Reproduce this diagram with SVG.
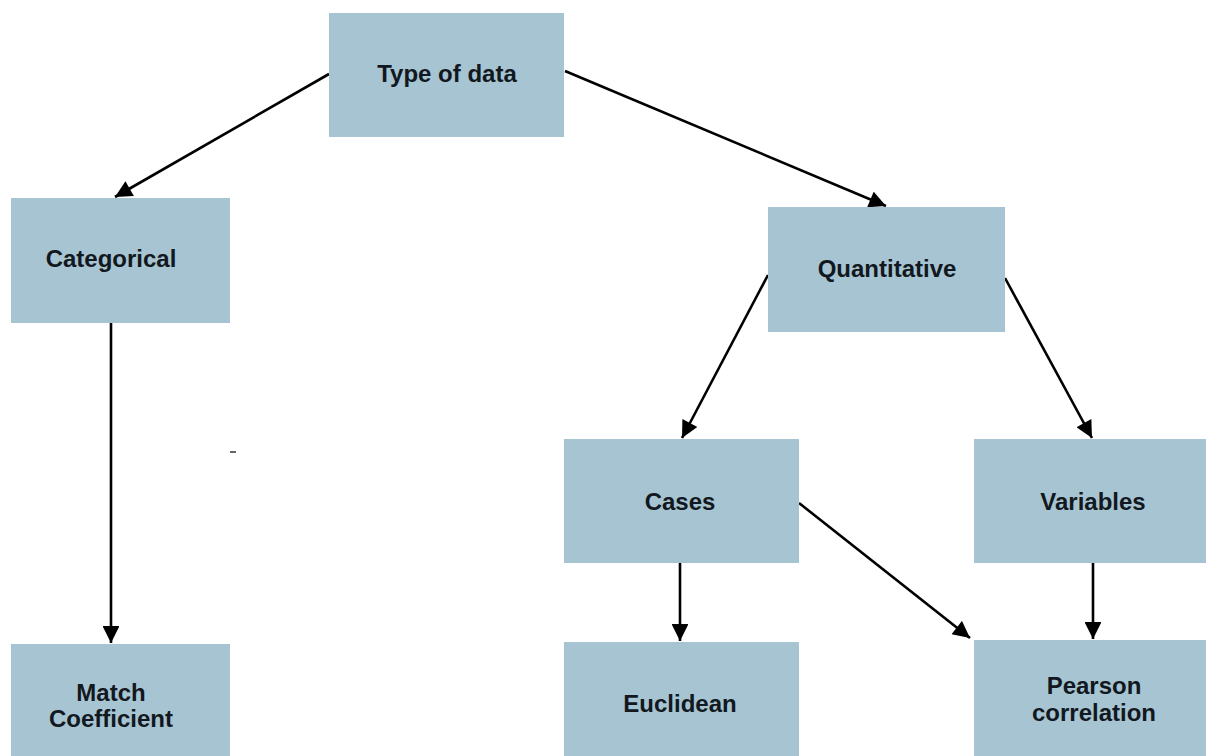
<svg xmlns="http://www.w3.org/2000/svg" width="1206" height="756" viewBox="0 0 1206 756">
  <style>
    .box { fill: #a7c4d2; }
    .label { font-family: "Liberation Sans", Arial, sans-serif; font-weight: bold; font-size: 24px; fill: #121820; text-anchor: middle; }
    .edge { stroke: #000; stroke-width: 2.6; fill: none; marker-end: url(#arrow); }
  </style>
  <defs>
    <marker id="arrow" viewBox="0 0 10 10" refX="10" refY="5" markerWidth="7" markerHeight="6.5" markerUnits="strokeWidth" orient="auto">
      <path d="M0,0 L10,5 L0,10 z" fill="#000"/>
    </marker>
  </defs>
  <rect width="1206" height="756" fill="#fff"/>

  <!-- connectors -->
  <g id="connectors">
    <line class="edge" x1="329" y1="74" x2="115" y2="197"/>
    <line class="edge" x1="565" y1="71" x2="886" y2="206"/>
    <line class="edge" x1="768" y1="275" x2="682" y2="438"/>
    <line class="edge" x1="1005" y1="278" x2="1092" y2="438"/>
    <line class="edge" x1="111" y1="323" x2="111" y2="643"/>
    <line class="edge" x1="680" y1="563" x2="680" y2="641"/>
    <line class="edge" x1="799" y1="503" x2="970" y2="638"/>
    <line class="edge" x1="1093" y1="563" x2="1093" y2="639"/>
  </g>

  <!-- nodes -->
  <g id="type-of-data">
    <rect class="box" x="329" y="13" width="235" height="124"/>
    <text class="label" x="447" y="82">Type of data</text>
  </g>
  <g id="categorical">
    <rect class="box" x="11" y="198" width="219" height="125"/>
    <text class="label" x="111" y="267">Categorical</text>
  </g>
  <g id="quantitative">
    <rect class="box" x="768" y="207" width="237" height="125"/>
    <text class="label" x="887" y="277">Quantitative</text>
  </g>
  <g id="cases">
    <rect class="box" x="564" y="439" width="235" height="124"/>
    <text class="label" x="680" y="510">Cases</text>
  </g>
  <g id="variables">
    <rect class="box" x="974" y="439" width="232" height="124"/>
    <text class="label" x="1093" y="510">Variables</text>
  </g>
  <g id="match-coefficient">
    <rect class="box" x="11" y="644" width="219" height="112"/>
    <text class="label" x="111" y="701">Match</text>
    <text class="label" x="111" y="727">Coefficient</text>
  </g>
  <g id="euclidean">
    <rect class="box" x="564" y="642" width="235" height="114"/>
    <text class="label" x="680" y="712">Euclidean</text>
  </g>
  <g id="pearson-correlation">
    <rect class="box" x="974" y="640" width="232" height="116"/>
    <text class="label" x="1094" y="694">Pearson</text>
    <text class="label" x="1094" y="721">correlation</text>
  </g>

  <!-- stray tick -->
  <line x1="230" y1="452" x2="236" y2="452" stroke="#000" stroke-width="1.2"/>
</svg>
